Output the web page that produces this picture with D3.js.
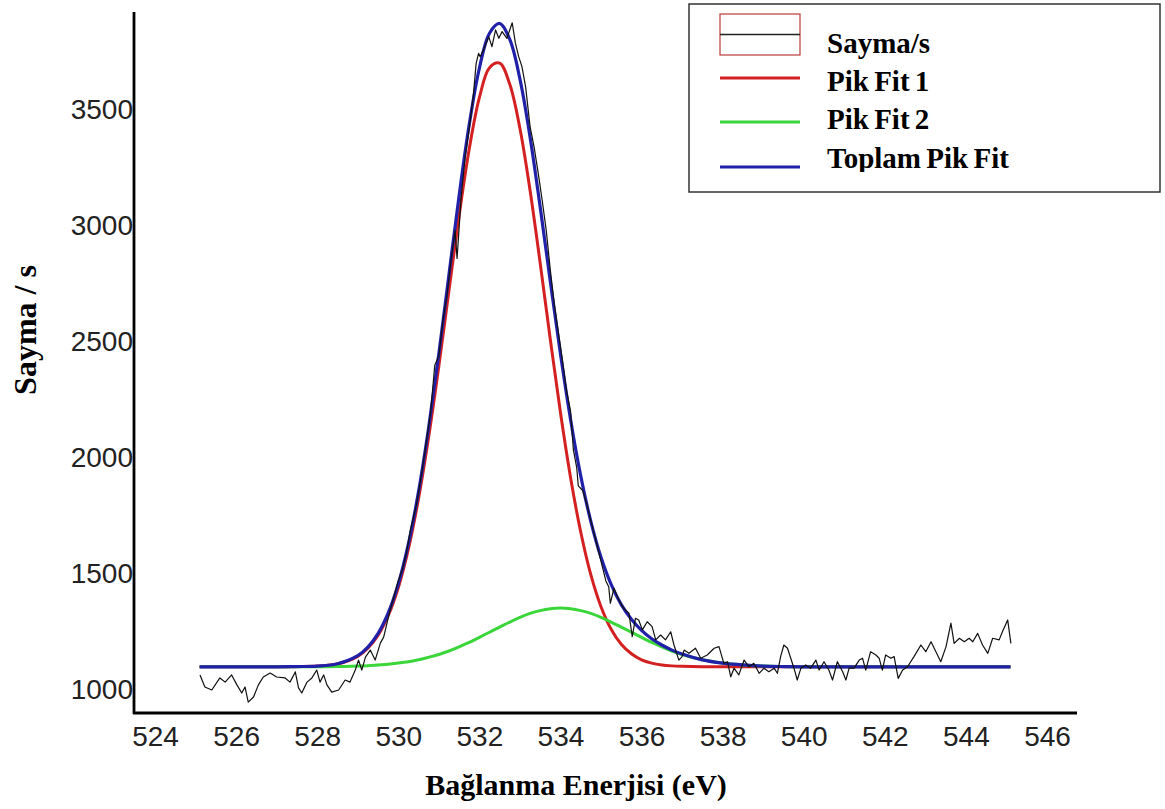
<!DOCTYPE html>
<html>
<head>
<meta charset="utf-8">
<script src="https://cdn.jsdelivr.net/npm/d3@7"></script>
<style>
  html, body { margin: 0; padding: 0; background: #fff; }
</style>
</head>
<body>
<script>
// fitted curves at these energies
const fitE = [525.1, 526, 527, 527.5, 528, 528.5, 529, 529.25, 529.5, 529.75, 530, 530.25, 530.5, 530.75,
  531, 531.25, 531.5, 531.75, 532, 532.25, 532.5, 532.75, 533, 533.25, 533.5, 533.75, 534, 534.25,
  534.5, 534.75, 535, 535.25, 535.5, 535.75, 536, 536.25, 536.5, 536.75, 537, 537.5, 538, 538.5,
  539, 539.5, 540, 542, 545.1]
const fit1 = [1100, 1100, 1100, 1101, 1103, 1112, 1145, 1180, 1235, 1320, 1441, 1608, 1825, 2091,
  2395, 2722, 3044, 3332, 3553, 3682, 3702, 3611, 3421, 3154, 2840, 2511, 2196, 1915,
  1681, 1496, 1359, 1262, 1197, 1156, 1130, 1116, 1108, 1104, 1102, 1100, 1100, 1100,
  1100, 1100, 1100, 1100, 1100]
const fit2 = [1100, 1100, 1100, 1100, 1100, 1101, 1103, 1105, 1108, 1111, 1116, 1122, 1130, 1141,
  1153, 1168, 1186, 1205, 1227, 1249, 1271, 1293, 1313, 1330, 1342, 1350, 1353, 1350,
  1342, 1330, 1313, 1293, 1271, 1249, 1227, 1205, 1186, 1168, 1153, 1130, 1116, 1108,
  1103, 1101, 1100, 1100, 1100]
const fitSum = [1100, 1100, 1100, 1101, 1103, 1113, 1148, 1185, 1243, 1331, 1457, 1630, 1855, 2132,
  2448, 2790, 3130, 3437, 3680, 3831, 3873, 3804, 3634, 3384, 3082, 2761, 2449, 2165,
  1923, 1726, 1572, 1455, 1368, 1305, 1257, 1221, 1194, 1172, 1155, 1130, 1116, 1108,
  1103, 1101, 1100, 1100, 1100]

// measured counts (noisy trace)
const rawE = [525.11, 525.23, 525.40, 525.60, 525.73, 525.89, 526.02, 526.14, 526.22, 526.30, 526.43, 526.55,
  526.67, 526.84, 527.00, 527.21, 527.33, 527.46, 527.54, 527.62, 527.75, 527.87, 527.99, 528.07, 528.16,
  528.24, 528.36, 528.53, 528.69, 528.81, 528.94, 529.02, 529.10, 529.19, 529.31, 529.43, 529.56, 529.64,
  529.80, 530.0, 530.1, 530.2, 530.3, 530.45, 530.6, 530.7, 530.8, 530.9, 531.0, 531.1, 531.2, 531.3,
  531.4, 531.45, 531.55, 531.65, 531.75, 531.85, 531.92, 531.98, 532.02, 532.10, 532.23, 532.31, 532.40,
  532.48, 532.56, 532.68, 532.81, 532.89, 532.97, 533.05, 533.14, 533.25, 533.35, 533.45, 533.55, 533.65,
  533.75, 533.85, 533.95, 534.05, 534.15, 534.25, 534.32, 534.40, 534.44, 534.55, 534.65, 534.75, 534.85,
  534.95, 535.05, 535.12, 535.19, 535.23, 535.32, 535.44, 535.56, 535.69, 535.77, 535.85, 535.93, 536.02,
  536.14, 536.26, 536.35, 536.47, 536.59, 536.72, 536.80, 536.92, 537.00, 537.05, 537.17, 537.33, 537.46,
  537.62, 537.79, 537.91, 538.03, 538.12, 538.20, 538.28, 538.40, 538.53, 538.65, 538.77, 538.90, 539.02,
  539.14, 539.27, 539.35, 539.43, 539.51, 539.60, 539.68, 539.76, 539.84, 539.93, 540.05, 540.17, 540.30,
  540.38, 540.50, 540.62, 540.71, 540.83, 540.96, 541.04, 541.12, 541.24, 541.37, 541.45, 541.53, 541.65,
  541.78, 541.86, 541.94, 542.02, 542.15, 542.23, 542.33, 542.44, 542.56, 542.72, 542.89, 543.01, 543.14,
  543.26, 543.38, 543.51, 543.63, 543.71, 543.84, 543.96, 544.08, 544.17, 544.29, 544.41, 544.54, 544.66,
  544.82, 544.90, 545.03, 545.11]
const rawCounts = [1065, 1013, 1000, 1052, 1034, 1065, 1022, 987, 1013, 948, 970, 1022,
  1056, 1073, 1056, 1052, 1034, 1078, 1009, 987, 1034, 1052, 1086, 1034, 1065,
  1022, 991, 1000, 1043, 1034, 1086, 1129, 1086, 1142, 1172, 1129, 1203, 1228,
  1345, 1470, 1520, 1590, 1690, 1800, 1960, 2080, 2200, 2400, 2440, 2590, 2700, 2850,
  2980, 2860, 3120, 3300, 3420, 3560, 3700, 3744, 3730, 3759, 3816, 3773, 3845,
  3809, 3838, 3809, 3876, 3787, 3730, 3687, 3601, 3430, 3340, 3230, 3110, 2980,
  2810, 2660, 2540, 2420, 2290, 2200, 2034, 1960, 1880, 1860, 1800, 1730, 1660,
  1590, 1520, 1470, 1445, 1374, 1438, 1388, 1352, 1331, 1230, 1309, 1302, 1259,
  1294, 1273, 1216, 1237, 1216, 1251, 1194, 1129, 1144, 1172, 1158, 1180, 1137,
  1151, 1180, 1187, 1115, 1122, 1057, 1094, 1065, 1129, 1100, 1115, 1072, 1094,
  1079, 1094, 1072, 1144, 1194, 1180, 1137, 1094, 1043, 1094, 1108, 1094, 1129,
  1086, 1122, 1086, 1043, 1122, 1079, 1043, 1094, 1094, 1129, 1137, 1086, 1165,
  1151, 1137, 1086, 1151, 1137, 1144, 1050, 1086, 1100, 1144, 1194, 1165, 1208,
  1165, 1122, 1187, 1288, 1201, 1223, 1208, 1223, 1208, 1244, 1194, 1158, 1223,
  1216, 1251, 1302, 1201]

const xTicks = [524, 526, 528, 530, 532, 534, 536, 538, 540, 542, 544, 546]
const yTicks = [1000, 1500, 2000, 2500, 3000, 3500]
const legendLabels = ["Sayma/s", "Pik Fit 1", "Pik Fit 2", "Toplam Pik Fit"]
const xTitle = "Bağlanma Enerjisi (eV)"
const yTitle = "Sayma / s"

const width = 1165
const height = 809
const colors = { raw: "#111", fit1: "#d42020", fit2: "#3ad63a", sum: "#2020a8" }
const tickFont = "'Liberation Sans', Arial, sans-serif"
const titleFont = "'Liberation Serif', 'Times New Roman', serif"

// 524 -> 155px, 546 -> 1047px ; 1000 -> 690px, 3500 -> 110px
const x = d3.scaleLinear().domain([524, 546]).range([155, 1047])
const y = d3.scaleLinear().domain([1000, 3500]).range([690, 110])
const axisLeftX = 134
const axisBottomY = 713

const svg = d3.select("body").append("svg")
  .attr("width", width)
  .attr("height", height)
  .style("display", "block")

svg.append("rect").attr("width", width).attr("height", height).attr("fill", "#fff")

// axes (plain lines, no tick marks)
const xAxis = g => g
  .attr("transform", `translate(0,${axisBottomY})`)
  .call(d3.axisBottom(x).tickValues(xTicks).tickSize(0).tickPadding(8).tickFormat(d3.format("d")))
  .call(g => g.select(".domain").remove())
  .call(g => g.selectAll(".tick text")
    .attr("font-family", tickFont).attr("font-size", 28).attr("fill", "#222")
    .attr("dy", "0.88em"))

const yAxis = g => g
  .attr("transform", `translate(${axisLeftX},0)`)
  .call(d3.axisLeft(y).tickValues(yTicks).tickSize(0).tickPadding(1).tickFormat(d3.format("d")))
  .call(g => g.select(".domain").remove())
  .call(g => g.selectAll(".tick text")
    .attr("font-family", tickFont).attr("font-size", 28).attr("fill", "#222"))

svg.append("g").call(xAxis)
svg.append("g").call(yAxis)

svg.append("line")
  .attr("x1", axisLeftX).attr("x2", axisLeftX)
  .attr("y1", 12).attr("y2", axisBottomY + 1)
  .attr("stroke", "#000").attr("stroke-width", 2.8)
svg.append("line")
  .attr("x1", axisLeftX - 1).attr("x2", 1077)
  .attr("y1", axisBottomY).attr("y2", axisBottomY)
  .attr("stroke", "#000").attr("stroke-width", 2.8)

// curves
const fitLine = key => d3.line()
  .x((d, i) => x(fitE[i]))
  .y(d => y(d))
  .curve(d3.curveCatmullRom)(key)

svg.append("path").attr("d", fitLine(fit1))
  .attr("fill", "none").attr("stroke", colors.fit1).attr("stroke-width", 3)
svg.append("path").attr("d", fitLine(fit2))
  .attr("fill", "none").attr("stroke", colors.fit2).attr("stroke-width", 3)
svg.append("path").attr("d", fitLine(fitSum))
  .attr("fill", "none").attr("stroke", colors.sum).attr("stroke-width", 3.2)

const rawLine = d3.line()
  .x((d, i) => x(rawE[i]))
  .y(d => y(d))
svg.append("path").attr("d", rawLine(rawCounts))
  .attr("fill", "none").attr("stroke", colors.raw).attr("stroke-width", 1.2)
  .attr("stroke-linejoin", "round")

// axis titles
svg.append("text")
  .attr("x", 576).attr("y", 795)
  .attr("text-anchor", "middle")
  .attr("font-family", titleFont).attr("font-weight", "bold").attr("font-size", 30)
  .text(xTitle)

svg.append("text")
  .attr("transform", "translate(36,330) rotate(-90)")
  .attr("text-anchor", "middle")
  .attr("font-family", titleFont).attr("font-weight", "bold").attr("font-size", 32)
  .text(yTitle)

// legend
const legend = svg.append("g")
legend.append("rect")
  .attr("x", 689).attr("y", 4).attr("width", 471).attr("height", 188)
  .attr("fill", "#fff").attr("stroke", "#333").attr("stroke-width", 1.5)

svg.append("clipPath").attr("id", "legendClip")
  .append("rect").attr("x", 689).attr("y", 4).attr("width", 471).attr("height", 168)

legend.append("rect")
  .attr("x", 720).attr("y", 14).attr("width", 80).attr("height", 41)
  .attr("fill", "none").attr("stroke", "#b83a3a").attr("stroke-width", 1.2)
legend.append("line")
  .attr("x1", 720).attr("x2", 800).attr("y1", 34.5).attr("y2", 34.5)
  .attr("stroke", "#222").attr("stroke-width", 1.3)

const legendColors = [null, colors.fit1, colors.fit2, colors.sum]
const legendLineY = [null, 78, 122, 167]
const legendTextY = [53, 91, 129, 168]

legend.selectAll("line.key")
  .data(legendColors.slice(1))
  .join("line")
  .attr("class", "key")
  .attr("x1", 720).attr("x2", 800)
  .attr("y1", (d, i) => legendLineY[i + 1]).attr("y2", (d, i) => legendLineY[i + 1])
  .attr("stroke", d => d).attr("stroke-width", 3)

legend.append("g").attr("clip-path", "url(#legendClip)")
  .selectAll("text")
  .data(legendLabels)
  .join("text")
  .attr("x", 827)
  .attr("y", (d, i) => legendTextY[i])
  .attr("font-family", titleFont).attr("font-weight", "bold").attr("font-size", 29)
  .attr("word-spacing", "-2")
  .text(d => d)
</script>
</body>
</html>
